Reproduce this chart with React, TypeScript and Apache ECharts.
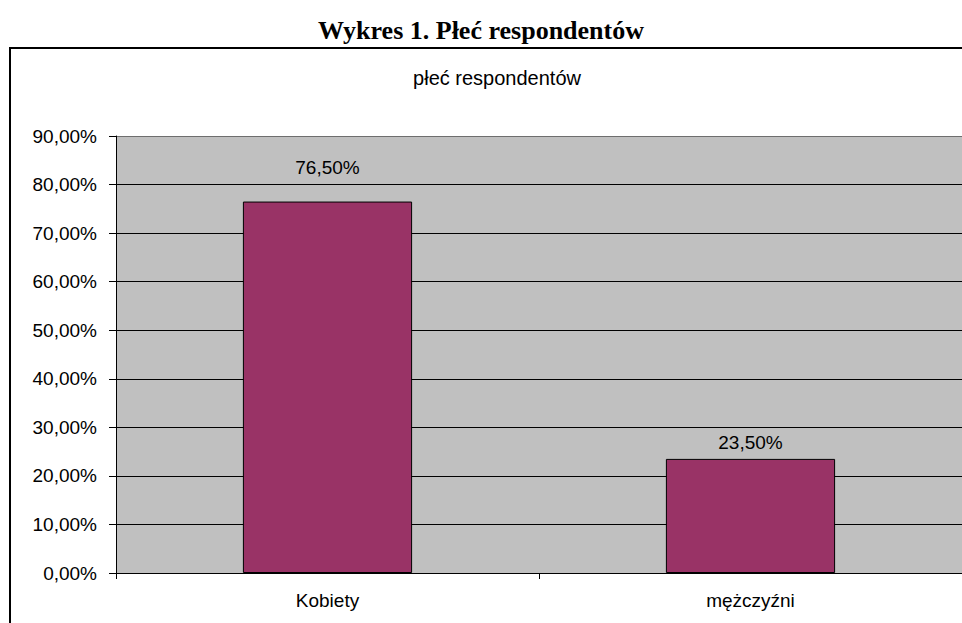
import React, { useEffect, useRef } from "react";
import * as echarts from "echarts";

const titleText = "Wykres 1. Płeć respondentów";
const subtitleText = "płeć respondentów";
const categories = ["Kobiety", "mężczyźni"];
const values = [0.765, 0.235];
const labelDistances = [25, 7];
const yMin = 0;
const yMax = 0.9;
const yInterval = 0.1;

const fmtPct = (v: number) => (v * 100).toFixed(2).replace(".", ",") + "%";

export default function App() {
  const ref = useRef<HTMLDivElement>(null);
  useEffect(() => {
    if (!ref.current) return;
    const chart = echarts.init(ref.current, undefined, { renderer: "svg" });
    const sans = "'Liberation Sans', Arial, sans-serif";
    const nLines = Math.round((yMax - yMin) / yInterval) + 1;
    const splitColors = Array.from({ length: nLines }, (_, i) =>
      i === nLines - 1 ? "#6e6e6e" : "#000000"
    );
    chart.setOption({
      animation: false,
      backgroundColor: "#ffffff",
      title: [
        {
          text: titleText,
          left: "center",
          top: 10,
          textStyle: {
            fontFamily: "'Liberation Serif', 'Times New Roman', serif",
            fontWeight: "bold",
            fontSize: 26,
            lineHeight: 30,
            color: "#000",
          },
        },
        {
          text: subtitleText,
          left: 492,
          textAlign: "center",
          top: 61,
          textStyle: {
            fontFamily: sans,
            fontWeight: "normal",
            fontSize: 20,
            lineHeight: 24,
            color: "#000",
          },
        },
      ],
      graphic: [
        {
          type: "polyline",
          shape: { points: [[10, 700], [10, 48], [1100, 48]] },
          style: { fill: "none", stroke: "#000", lineWidth: 2 },
          z: 100,
        },
      ],
      grid: {
        left: 116,
        top: 136,
        right: 0,
        bottom: 50,
        show: true,
        backgroundColor: "#C0C0C0",
        borderWidth: 0,
      },
      xAxis: {
        type: "category",
        data: categories,
        axisLine: { lineStyle: { color: "#000", width: 1 } },
        axisTick: { show: true, length: 6, alignWithLabel: false, lineStyle: { color: "#000" } },
        axisLabel: { color: "#000", fontFamily: sans, fontSize: 19, margin: 18 },
        splitLine: { show: false },
      },
      yAxis: {
        type: "value",
        min: yMin,
        max: yMax,
        interval: yInterval,
        axisLine: { show: true, lineStyle: { color: "#000", width: 1 } },
        axisTick: { show: true, length: 7, lineStyle: { color: "#000" } },
        axisLabel: {
          color: "#000",
          fontFamily: sans,
          fontSize: 19,
          margin: 19,
          formatter: (v: number) => fmtPct(v),
        },
        splitLine: { show: true, lineStyle: { color: splitColors, width: 1 } },
      },
      series: [
        {
          type: "bar",
          barWidth: "40%",
          data: values.map((v, i) => ({
            value: v,
            label: { distance: labelDistances[i] },
          })),
          itemStyle: { color: "#993366", borderColor: "#000", borderWidth: 1 },
          label: {
            show: true,
            position: "top",
            color: "#000",
            fontFamily: sans,
            fontSize: 19,
            formatter: (p: any) => fmtPct(p.value),
          },
        },
      ],
    });
    return () => chart.dispose();
  }, []);
  return (
    <div
      ref={ref}
      style={{ position: "fixed", left: 0, top: 0, width: 962, height: 623 }}
    />
  );
}
